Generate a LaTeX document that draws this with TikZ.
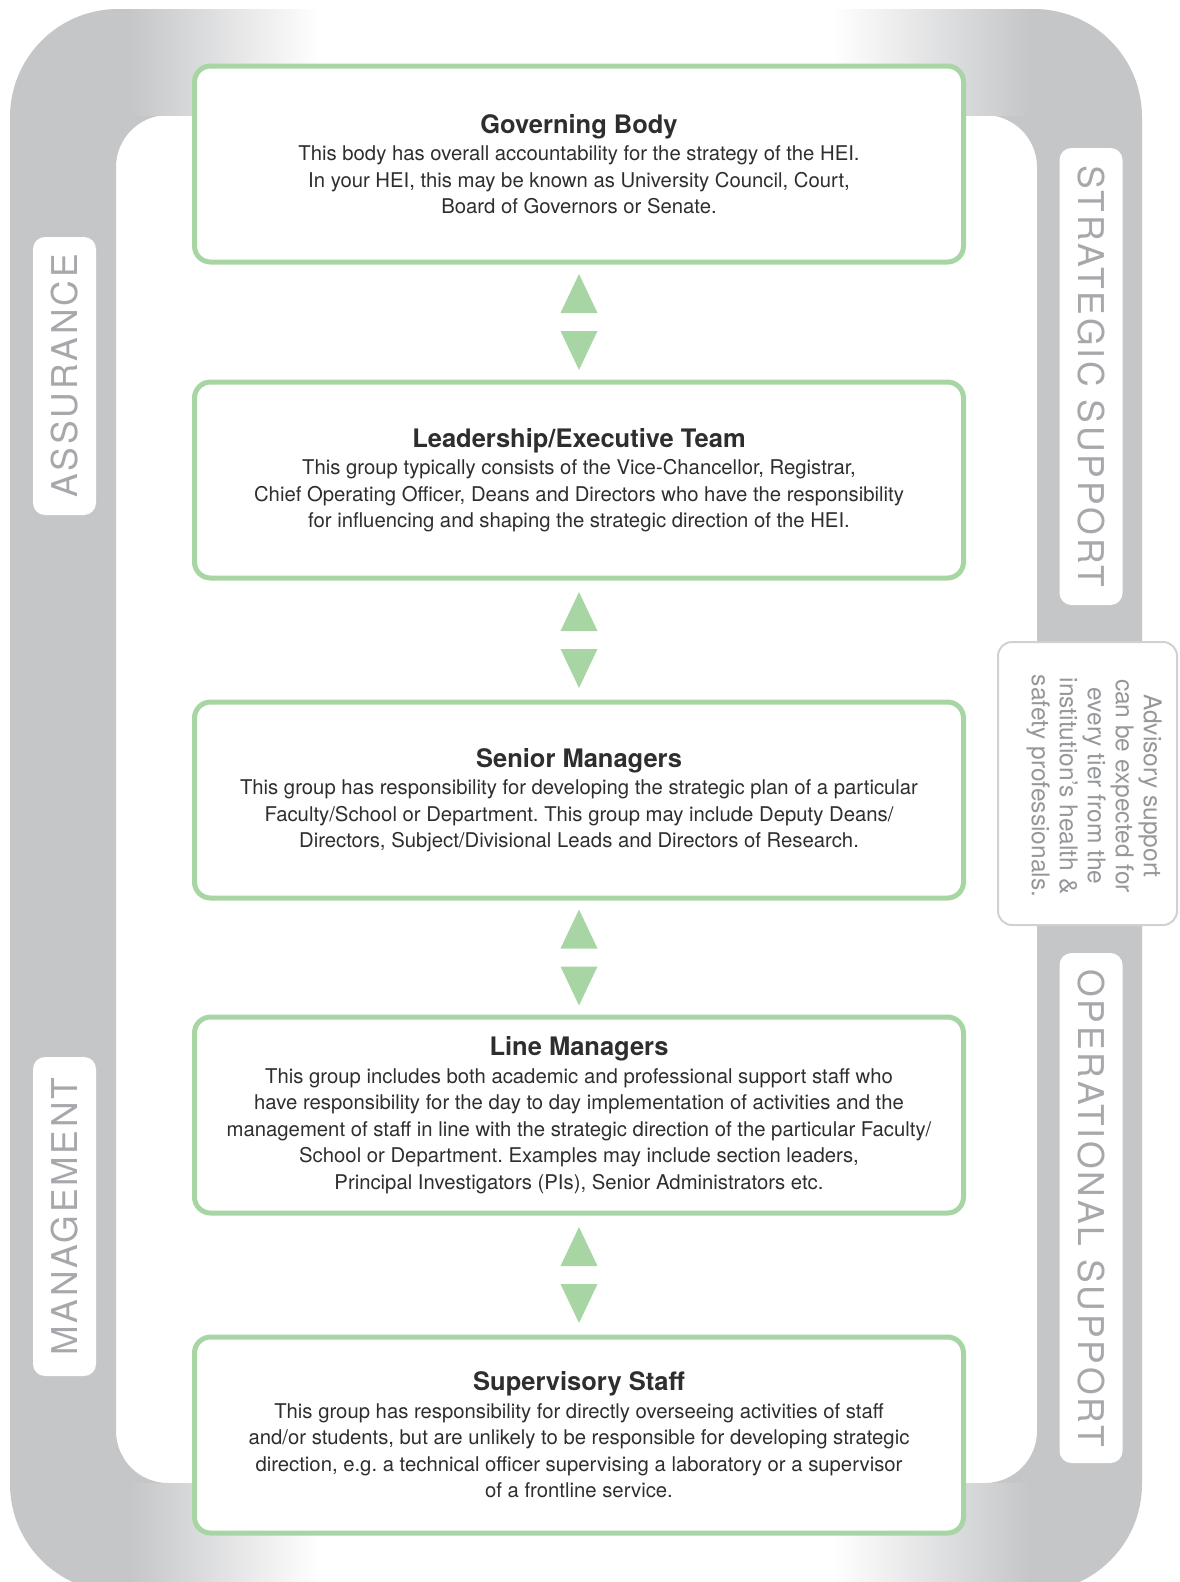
\documentclass[tikz,border=0pt]{standalone}
\usepackage{fontspec}
\setmainfont{TeX Gyre Heros}
\usepackage{tikz}
\usetikzlibrary{calc}
\frenchspacing
\definecolor{framegray}{HTML}{C5C6C8}
\definecolor{tiergreen}{HTML}{A8D5A4}
\definecolor{labelgray}{HTML}{A6A8AB}
\definecolor{bodygray}{HTML}{2E2E2E}
\newcommand{\tiertitle}[1]{{\fontsize{25.5}{29}\selectfont\bfseries #1}\\[1pt]}
\tikzstyle{tier} = [draw=tiergreen, line width=5pt, rectangle, rounded corners=16pt, fill=white, minimum width=769pt, minimum height=196pt, align=center, text=bodygray, font=\fontsize{20.3}{26.5}\selectfont]
\tikzstyle{sidelabel} = [rectangle, fill=white, rounded corners=12pt, minimum height=63pt, inner sep=0pt, text=labelgray, font=\fontsize{35.5}{35}\selectfont\addfontfeatures{LetterSpace=8}]
\tikzstyle{advice} = [rectangle, draw=framegray!90!black!60, line width=2pt, rounded corners=14pt, fill=white, align=center, text=labelgray!90!black, font=\fontsize{24.5}{28}\selectfont]
\tikzstyle{tri} = [fill=tiergreen]

\begin{document}
\begin{tikzpicture}[x=1pt, y=-1pt, node distance=316pt]
            \useasboundingbox (0,0) rectangle (1179,1582);
            % outer frame
            \fill [framegray, even odd rule, rounded corners=108pt] (10,9) rectangle (1142,1592)
                [rounded corners=52pt] (116,115) rectangle (1037,1483);
            \begin{scope}
                \clip [rounded corners=108pt] (10,9) rectangle (1142,1592);
                \shade [left color=framegray, right color=white] (130,0) rectangle (320,115);
                \fill [white] (319,0) rectangle (834,115);
                \shade [left color=white, right color=framegray] (833,0) rectangle (1030,115);
                \shade [left color=framegray, right color=white] (130,1483) rectangle (320,1600);
                \fill [white] (319,1483) rectangle (834,1600);
                \shade [left color=white, right color=framegray] (833,1483) rectangle (1030,1600);
            \end{scope}

            % side labels
            \node [sidelabel, rotate=90, minimum width=278pt] (assurance) at (64.5,376) {ASSURANCE};
            \node [sidelabel, rotate=90, minimum width=319pt] (mgmt) at (64.5,1216.5) {MANAGEMENT};
            \node [sidelabel, rotate=-90, minimum width=457pt] (strategic) at (1091,376.5) {STRATEGIC SUPPORT};
            \node [sidelabel, rotate=-90, minimum width=510pt] (operational) at (1091,1208) {OPERATIONAL SUPPORT};
            \node [advice, rotate=-90, minimum width=283pt, minimum height=179pt] (advisory) at (1087.5,783.5) {};
            \node [advice, draw=none, fill=none, rotate=-90] at (1094,786)
                {Advisory support\\can be expected for\\every tier from the\\institution's health \&\\safety professionals.};

            % tiers
            \node [tier] (gov) at (579,164) {\tiertitle{Governing Body}
                This body has overall accountability for the strategy of the HEI.\\
                In your HEI, this may be known as University Council, Court,\\
                Board of Governors or Senate.};
            \node [tier, below of=gov] (lead) {\tiertitle{Leadership/Executive Team}
                This group typically consists of the Vice-Chancellor, Registrar,\\
                Chief Operating Officer, Deans and Directors who have the responsibility\\
                for influencing and shaping the strategic direction of the HEI.};
            \node [tier, below of=lead, node distance=320pt] (senior) {\tiertitle{Senior Managers}
                This group has responsibility for developing the strategic plan of a particular\\
                Faculty/School or Department. This group may include Deputy Deans/\\
                Directors, Subject/Divisional Leads and Directors of Research.};
            \node [tier, below of=senior, node distance=315pt] (linemgr) {\tiertitle{Line Managers}
                This group includes both academic and professional support staff who\\
                have responsibility for the day to day implementation of activities and the\\
                management of staff in line with the strategic direction of the particular Faculty/\\
                School or Department. Examples may include section leaders,\\
                Principal Investigators (PIs), Senior Administrators etc.};
            \node [tier, below of=linemgr, node distance=320pt] (super) {\tiertitle{Supervisory Staff}
                This group has responsibility for directly overseeing activities of staff\\
                and/or students, but are unlikely to be responsible for developing strategic\\
                direction, e.g. a technical officer supervising a laboratory or a supervisor\\
                of a frontline service.};

            % two-way links
            \foreach \a/\b in {gov/lead, lead/senior, senior/linemgr, linemgr/super} {
                \coordinate (mid) at ($(\a.south)!0.5!(\b.north)$);
                \fill [tri] ($(mid)+(-18.5,-9)$) -- ($(mid)+(18.5,-9)$) -- ($(mid)+(0,-48)$) -- cycle;
                \fill [tri] ($(mid)+(-18.5,9)$) -- ($(mid)+(18.5,9)$) -- ($(mid)+(0,48)$) -- cycle;
            }
        \end{tikzpicture}
\end{document}
